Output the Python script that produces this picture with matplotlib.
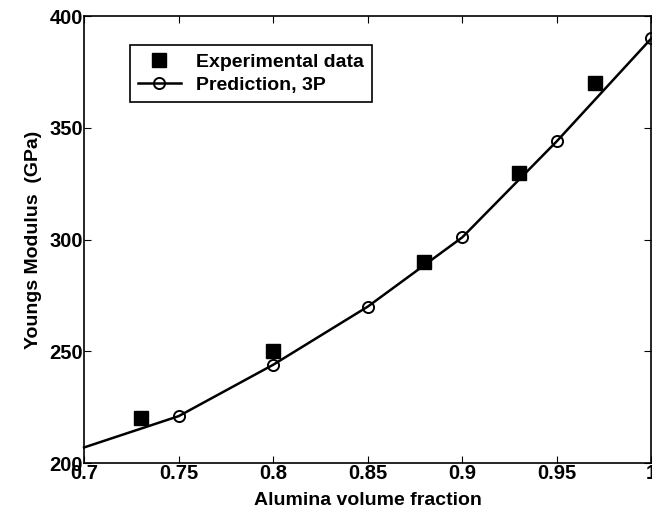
import matplotlib
matplotlib.use('Agg')
import matplotlib.pyplot as plt

# data
exp_x = [0.73, 0.80, 0.88, 0.93, 0.97]
exp_y = [220, 250, 290, 330, 370]

pred_x = [0.70, 0.75, 0.80, 0.85, 0.90, 0.95, 1.00]
pred_y = [207, 221, 244, 270, 301, 344, 390]

plt.rcParams['font.family'] = 'Liberation Sans'
plt.rcParams['font.weight'] = 'bold'

fig = plt.figure(figsize=(6.52, 5.18), dpi=100)
ax = fig.add_axes([0.129, 0.106, 0.870, 0.863])

ax.plot(exp_x, exp_y, 's', color='black', markersize=9.5, label='Experimental data')
ax.plot(pred_x, pred_y, '-', color='black', linewidth=1.8, marker='o',
        markersize=8, markerfacecolor='none', markeredgewidth=1.4,
        markevery=list(range(1, len(pred_x))), label='Prediction, 3P', clip_on=False)

ax.set_xlim(0.7, 1.0)
ax.set_ylim(200, 400)
ax.set_xticks([0.7, 0.75, 0.8, 0.85, 0.9, 0.95, 1.0])
ax.set_xticklabels(['0.7', '0.75', '0.8', '0.85', '0.9', '0.95', '1'])
ax.set_yticks([200, 250, 300, 350, 400])
ax.tick_params(direction='in', top=True, right=True, length=5, labelsize=14.5, pad=1)
for s in ax.spines.values():
    s.set_linewidth(1.2)

ax.set_xlabel('Alumina volume fraction', fontsize=14, fontweight='bold', labelpad=6)
ax.set_ylabel('Youngs Modulus  (GPa)', fontsize=14, fontweight='bold', labelpad=5)

leg = ax.legend(loc='upper left', bbox_to_anchor=(0.081, 0.935), borderaxespad=0,
                fancybox=False, edgecolor='black', fontsize=14, borderpad=0.4,
                handlelength=2.2, labelspacing=0.3, framealpha=1)
leg.get_frame().set_linewidth(1.2)

fig.savefig('out.png', dpi=100)
